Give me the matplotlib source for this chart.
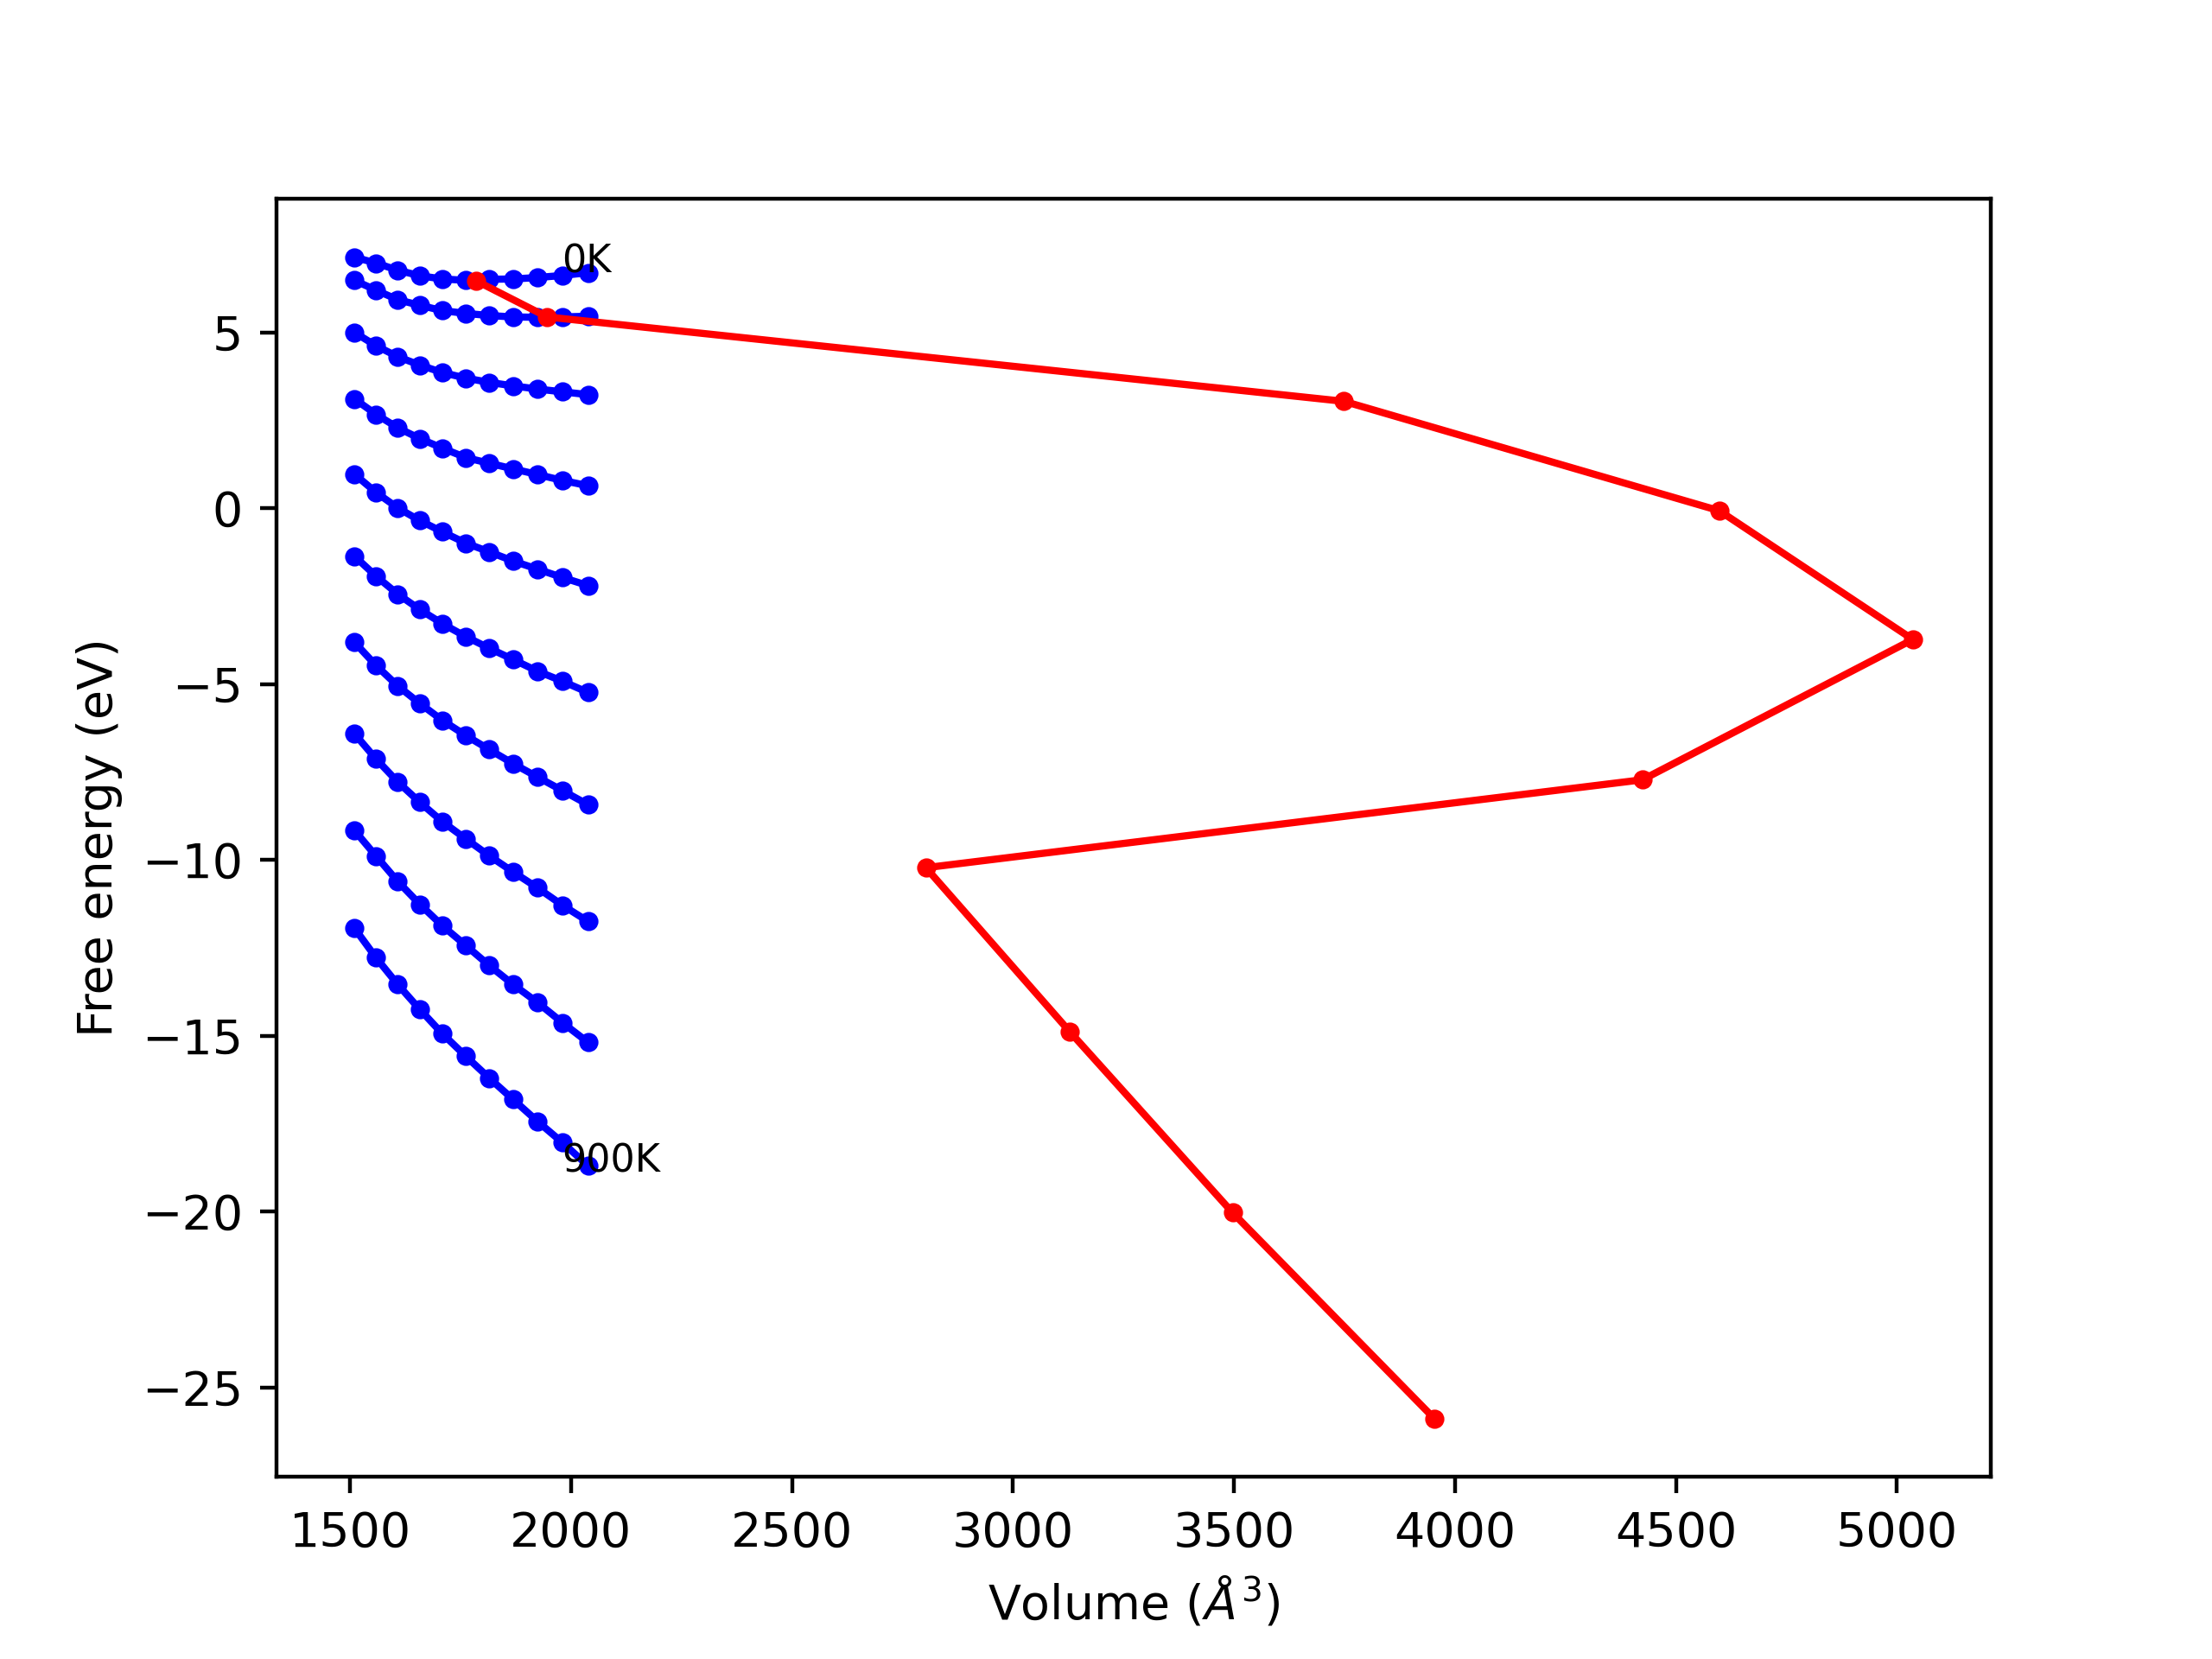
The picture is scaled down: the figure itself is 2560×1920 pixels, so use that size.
import matplotlib.pyplot as plt
import numpy as np

# Volumes (A^3) used for every temperature
volumes = [1510, 1559, 1608, 1658, 1709, 1762, 1815, 1869, 1924, 1981, 2039]

# Free energy curves (eV), one per temperature
temperatures = [0, 100, 200, 300, 400, 500, 600, 700, 800, 900]
e_0K = [7.14, 6.97, 6.77, 6.61, 6.52, 6.48, 6.51, 6.52, 6.56, 6.62, 6.70]
e_100K = [6.48, 6.20, 5.93, 5.77, 5.62, 5.54, 5.48, 5.44, 5.43, 5.44, 5.46]
e_200K = [5.00, 4.62, 4.31, 4.07, 3.86, 3.70, 3.58, 3.48, 3.39, 3.31, 3.23]
e_300K = [3.11, 2.67, 2.29, 1.98, 1.71, 1.44, 1.28, 1.12, 0.96, 0.79, 0.64]
e_400K = [0.97, 0.45, 0.01, -0.35, -0.67, -0.99, -1.24, -1.50, -1.73, -1.97, -2.20]
e_500K = [-1.36, -1.93, -2.44, -2.88, -3.28, -3.65, -3.98, -4.30, -4.63, -4.92, -5.24]
e_600K = [-3.81, -4.47, -5.05, -5.55, -6.03, -6.46, -6.86, -7.26, -7.64, -8.03, -8.43]
e_700K = [-6.41, -7.13, -7.78, -8.36, -8.91, -9.40, -9.88, -10.34, -10.79, -11.29, -11.75]
e_800K = [-9.16, -9.89, -10.61, -11.26, -11.87, -12.43, -13.00, -13.54, -14.05, -14.63, -15.19]
e_900K = [-11.94, -12.78, -13.54, -14.25, -14.94, -15.58, -16.20, -16.81, -17.43, -18.04, -18.70]

# Fitted minima (equilibrium volume / energy) for each temperature
min_volumes = [1785, 1946, 3749, 4598, 5036, 4424, 2803, 3129, 3497, 3953]
min_energies = [6.47, 5.44, 3.04, -0.07, -3.73, -7.72, -10.22, -14.89, -20.03, -25.88]

curves = [e_0K, e_100K, e_200K, e_300K, e_400K, e_500K, e_600K, e_700K, e_800K, e_900K]

plt.figure(figsize=(6.4, 4.8), dpi=400)

for e in curves:
    plt.plot(volumes, e, 'b.-')

plt.plot(min_volumes, min_energies, 'r.-')

# label first and last temperature next to the end of their curve
plt.text(volumes[-1] - 60, e_0K[-1], '%dK' % temperatures[0], fontsize=8)
plt.text(volumes[-1] - 60, e_900K[-1] - 0.18, '%dK' % temperatures[-1], fontsize=8)

plt.xlabel(r'Volume ($\AA^3$)')
plt.ylabel('Free energy (eV)')
plt.savefig('out.png', dpi=400)
